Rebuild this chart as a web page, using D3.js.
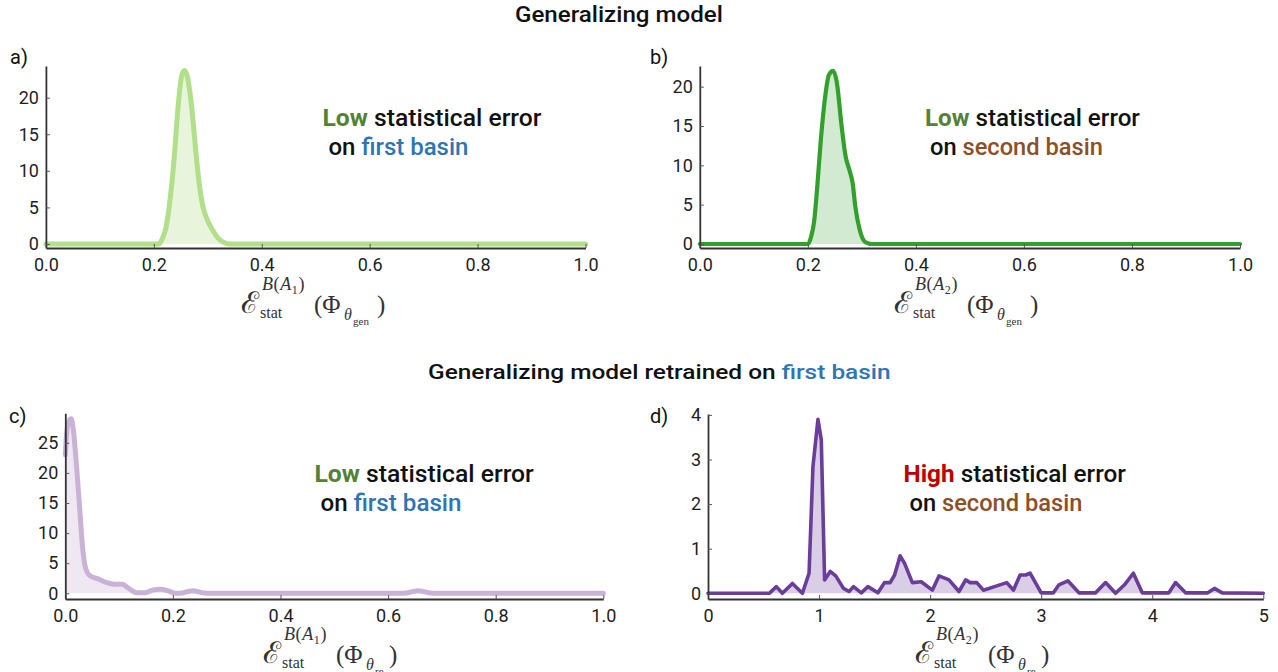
<!DOCTYPE html>
<html><head><meta charset="utf-8">
<script src="https://cdn.jsdelivr.net/npm/d3@7"></script>
<style>body{margin:0;background:#fff}svg{display:block}text{white-space:pre}</style>
</head><body>
<svg id="chart" width="1278" height="672"></svg>
<script>
// ---------- data ----------
const aX = [0, 0.10, 0.20, 0.209, 0.216, 0.223, 0.230, 0.238, 0.245, 0.252, 0.257, 0.262, 0.270, 0.277, 0.284, 0.291, 0.298, 0.309, 0.319, 0.330, 0.340, 0.50, 1.0];
const aY = [0, 0, 0, 0, 0.8, 2.4, 6.0, 12.0, 18.8, 23.1, 23.7, 22.9, 18.8, 13.3, 8.3, 5.1, 3.5, 1.9, 0.8, 0.2, 0, 0, 0];

const bX = [0, 0.10, 0.20, 0.206, 0.212, 0.217, 0.224, 0.232, 0.239, 0.247, 0.254, 0.262, 0.270, 0.277, 0.283, 0.288, 0.296, 0.303, 0.311, 0.320, 0.50, 1.0];
const bY = [0, 0, 0, 0.9, 3.05, 6.9, 13.2, 18.7, 21.5, 22.0, 20.4, 15.3, 11.1, 9.4, 7.7, 4.7, 1.8, 0.5, 0.1, 0, 0, 0];

const cX = [0, 0.0015, 0.006, 0.011, 0.015, 0.021, 0.027, 0.032, 0.038, 0.046, 0.061, 0.076, 0.091, 0.106, 0.118, 0.133, 0.148, 0.163, 0.176, 0.190, 0.205, 0.220, 0.237, 0.254, 0.273, 0.40, 0.620, 0.637, 0.656, 0.675, 0.690, 0.85, 1.0];
const cY = [23, 25.4, 28.5, 29.0, 27.1, 21.0, 13.8, 7.7, 4.1, 2.9, 2.4, 1.8, 1.5, 1.5, 0.8, 0.1, 0.1, 0.55, 0.66, 0.44, 0, 0.1, 0.44, 0.1, 0, 0, 0, 0.1, 0.44, 0.1, 0, 0, 0];

const dX = [0, 0.553, 0.615, 0.67, 0.76, 0.85, 0.91, 0.945, 0.99, 1.02, 1.05, 1.10, 1.15, 1.22, 1.27, 1.31, 1.38, 1.44, 1.53, 1.59, 1.64, 1.68, 1.73, 1.77, 1.84, 1.92, 2.02, 2.08, 2.17, 2.26, 2.32, 2.36, 2.42, 2.48, 2.58, 2.69, 2.75, 2.81, 2.86, 2.90, 3.00, 3.11, 3.16, 3.24, 3.34, 3.49, 3.58, 3.67, 3.75, 3.83, 3.91, 4.15, 4.21, 4.30, 4.50, 4.56, 4.63, 5.0];
const dY = [0, 0, 0.15, 0, 0.22, 0, 0.45, 2.84, 3.9, 3.44, 0.3, 0.49, 0.39, 0.11, 0.04, 0.15, 0.01, 0.15, 0.01, 0.24, 0.24, 0.41, 0.84, 0.67, 0.24, 0.26, 0.07, 0.39, 0.30, 0.04, 0.30, 0.24, 0.24, 0.07, 0.15, 0.24, 0.07, 0.41, 0.41, 0.45, 0.01, 0.01, 0.19, 0.28, 0.01, 0.01, 0.24, 0, 0.19, 0.45, 0.01, 0.01, 0.24, 0.01, 0.01, 0.11, 0.01, 0];

const xTicksUnit = [0, 0.2, 0.4, 0.6, 0.8, 1.0];
const xTicksD = [0, 1, 2, 3, 4, 5];
const yTicksAB = [0, 5, 10, 15, 20];
const yTicksC = [0, 5, 10, 15, 20, 25];
const yTicksD = [0, 1, 2, 3, 4];

const titles = ["Generalizing model", "Generalizing model retrained on ", "first basin"];

// ---------- drawing ----------
const svg = d3.select('#chart');
const FONT = 'Roboto, "Noto Sans", sans-serif';
const SERIF = '"Liberation Serif", "DejaVu Serif", serif';
const C_GREEN = '#548235', C_BLUE = '#2e75b6', C_BROWN = '#8f4f25', C_RED = '#c00000';

function fitText(t, x, y, w) {
  t.attr('x', 0).attr('y', 0);
  const nw = t.node().getComputedTextLength();
  t.attr('transform', `translate(${x},${y}) scale(${w / nw},1)`);
}
function richText(parts, x, y, w, size) {
  const t = svg.append('text').attr('font-family', FONT).attr('font-size', size);
  parts.forEach(p => t.append('tspan').text(p.t).attr('fill', p.c).attr('font-weight', p.w || 500));
  fitText(t, x, y, w);
}

function panel(cfg) {
  const x = d3.scaleLinear().domain(cfg.xDomain).range(cfg.xRange);
  const y = d3.scaleLinear().domain(cfg.yDomain).range(cfg.yRange);
  const g = svg.append('g');
  const pts = cfg.xs.map((v, i) => [v, cfg.ys[i]]);
  g.append('path').datum(pts)
    .attr('d', d3.area().x(d => x(d[0])).y0(y(0)).y1(d => y(d[1])).curve(cfg.curve))
    .attr('fill', cfg.color).attr('fill-opacity', cfg.fillOp);
  g.append('path').datum(pts)
    .attr('d', d3.line().x(d => x(d[0])).y(d => y(d[1])).curve(cfg.curve))
    .attr('fill', 'none').attr('stroke', cfg.color).attr('stroke-width', cfg.lw)
    .attr('stroke-linejoin', 'round').attr('stroke-linecap', 'round');

  const xa = g.append('g').attr('transform', `translate(0,${cfg.yRange[0]})`)
    .call(d3.axisBottom(x).tickValues(cfg.xTicks).tickFormat(cfg.xFmt).tickSizeInner(-4).tickSizeOuter(0).tickPadding(10));
  const ya = g.append('g').attr('transform', `translate(${cfg.xRange[0]},0)`)
    .call(d3.axisLeft(y).tickValues(cfg.yTicks).tickFormat(d3.format('d')).tickSizeInner(-4).tickSizeOuter(0).tickPadding(7));
  [xa, ya].forEach(a => {
    a.select('.domain').attr('stroke', '#333').attr('stroke-width', 1.8);
    a.selectAll('.tick line').attr('stroke', '#555').attr('stroke-width', 1);
    a.selectAll('.tick text').attr('font-family', FONT).attr('font-size', 18).attr('fill', '#1e1e1e');
  });
  return g;
}

function mathLabel(x0, y0, idx, thetaSub) {
  const g = svg.append('g').attr('font-family', SERIF).attr('fill', '#333');
  const t = (x, y, size, txt, italic) => g.append('text').attr('x', x).attr('y', y)
    .attr('font-size', size).attr('font-style', italic ? 'italic' : 'normal').text(txt);
  t(x0 - 2, y0 + 1, 30, 'ℰ', false).attr('font-family', '"DejaVu Sans", sans-serif').attr('font-weight', 300);
  const sup = g.append('text').attr('x', x0 + 19).attr('y', y0 - 22).attr('font-size', 18).attr('letter-spacing', 0.6);
  sup.append('tspan').text('B').attr('font-style', 'italic');
  sup.append('tspan').text('(');
  sup.append('tspan').text('A').attr('font-style', 'italic');
  sup.append('tspan').text(idx).attr('font-size', 12).attr('dy', 4);
  sup.append('tspan').text(')').attr('dy', -4);
  t(x0 + 17, y0 + 6, 16, 'stat', false);
  t(x0 + 71, y0 + 1, 25, '(Φ', false);
  t(x0 + 101, y0 + 8, 16, 'θ', true);
  t(x0 + 110, y0 + 13, 11, thetaSub, false);
  t(x0 + (thetaSub === 'gen' ? 134 : 124), y0 + 1, 25, ')', false);
}

// titles
richText([{t: titles[0], c: '#111'}], 515, 21.7, 208, 22);
richText([{t: titles[1], c: '#111'}, {t: titles[2], c: C_BLUE}], 428, 379.3, 463, 20);

// panel letters
[['a)', 10, 64], ['b)', 650, 64], ['c)', 9, 422.5], ['d)', 650, 422.5]].forEach(([s, x, y]) =>
  svg.append('text').attr('x', x).attr('y', y).attr('font-family', FONT).attr('font-size', 20)
    .attr('fill', '#111').text(s));

const fmt1 = d3.format('.1f');
panel({xs: aX, ys: aY, xDomain: [0, 1], xRange: [45.9, 585.5], yDomain: [-0.547, 24.33], yRange: [248, 66],
  xTicks: xTicksUnit, yTicks: yTicksAB, xFmt: fmt1, color: '#b2df8a', lw: 5, fillOp: 0.3, curve: d3.curveMonotoneX});
panel({xs: bX, ys: bY, xDomain: [0, 1], xRange: [699.8, 1240], yDomain: [-0.509, 22.63], yRange: [248, 66],
  xTicks: xTicksUnit, yTicks: yTicksAB, xFmt: fmt1, color: '#33a02c', lw: 4.2, fillOp: 0.22, curve: d3.curveMonotoneX});
panel({xs: cX, ys: cY, xDomain: [0, 1], xRange: [65.3, 603.3], yDomain: [-0.95, 29.9], yRange: [599, 413.3],
  xTicks: xTicksUnit, yTicks: yTicksC, xFmt: fmt1, color: '#cab2d6', lw: 5, fillOp: 0.3, curve: d3.curveMonotoneX});
panel({xs: dX, ys: dY, xDomain: [0, 5], xRange: [708, 1263.3], yDomain: [-0.128, 4.02], yRange: [599, 414],
  xTicks: xTicksD, yTicks: yTicksD, xFmt: d3.format('d'), color: '#6a3d9a', lw: 3.6, fillOp: 0.25, curve: d3.curveLinear});

// annotations
richText([{t: 'Low', c: C_GREEN, w: 700}, {t: ' statistical error', c: '#111'}], 322.5, 126, 219, 24);
richText([{t: 'on ', c: '#111'}, {t: 'first basin', c: C_BLUE}], 328.5, 155, 140, 24);
richText([{t: 'Low', c: C_GREEN, w: 700}, {t: ' statistical error', c: '#111'}], 925, 126, 215, 24);
richText([{t: 'on ', c: '#111'}, {t: 'second basin', c: C_BROWN}], 930, 155, 173, 24);
richText([{t: 'Low', c: C_GREEN, w: 700}, {t: ' statistical error', c: '#111'}], 314.5, 481.7, 219.5, 24);
richText([{t: 'on ', c: '#111'}, {t: 'first basin', c: C_BLUE}], 320.5, 510.5, 141, 24);
richText([{t: 'High', c: C_RED, w: 700}, {t: ' statistical error', c: '#111'}], 903.5, 481.7, 222.5, 24);
richText([{t: 'on ', c: '#111'}, {t: 'second basin', c: C_BROWN}], 909.5, 510.5, 173, 24);

// axis labels
mathLabel(243, 312, '1', 'gen');
mathLabel(896, 312, '2', 'gen');
mathLabel(265, 662, '1', 're');
mathLabel(917, 662, '2', 're');
</script>
</body></html>
